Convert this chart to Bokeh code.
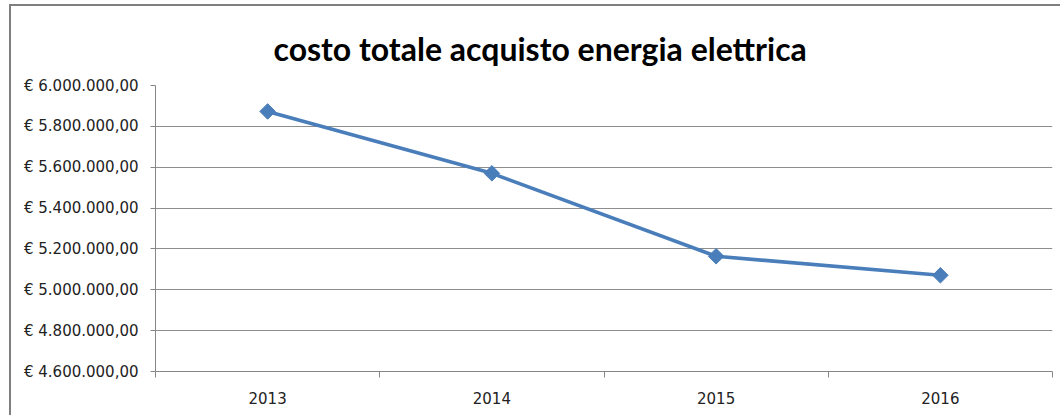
import math
from bokeh.plotting import figure
from bokeh.models import FixedTicker, Range1d, ColumnDataSource
from bokeh.embed import file_html
from bokeh.resources import INLINE

years = ["2013", "2014", "2015", "2016"]
costs = [5873000, 5570000, 5164000, 5071000]
y_ticks = [4600000, 4800000, 5000000, 5200000, 5400000, 5600000, 5800000, 6000000]
y_labels = ["€ 4.600.000,00", "€ 4.800.000,00", "€ 5.000.000,00", "€ 5.200.000,00",
            "€ 5.400.000,00", "€ 5.600.000,00", "€ 5.800.000,00", "€ 6.000.000,00"]
title_text = "costo totale acquisto energia elettrica"

xpos = [i + 0.5 for i in range(len(years))]
src = ColumnDataSource(dict(x=xpos, y=costs))

p = figure(width=1060, height=415, output_backend="svg", toolbar_location=None,
           x_range=Range1d(0, len(years)), y_range=Range1d(y_ticks[0], y_ticks[-1]),
           min_border_left=155, min_border_right=8, min_border_top=85, min_border_bottom=44,
           title=title_text)
p.styles = {
    "background": "linear-gradient(#7f7f7f,#7f7f7f) 9px 4px / 2px 100% no-repeat, "
                  "linear-gradient(#7f7f7f,#7f7f7f) 9px 4px / 100% 2px no-repeat, white"
}
p.outline_line_color = None
p.background_fill_color = "white"
p.border_fill_color = None

p.title.align = "left"
p.title.offset = 118
p.title.standoff = 36
p.title.text_font = "Lato"
p.title.text_font_style = "bold"
p.title.text_font_size = "32px"
p.title.text_color = "black"

p.line("x", "y", source=src, line_color="#4a7ebb", line_width=3.6)
p.scatter("x", "y", source=src, marker="square", angle=math.pi / 4, size=11,
          fill_color="#4a7ebb", line_color="#4a7ebb")

# x axis
p.xaxis.ticker = FixedTicker(ticks=xpos, minor_ticks=list(range(len(years) + 1)))
p.xaxis.major_label_overrides = {x: y for x, y in zip(xpos, years)}
p.xaxis.major_tick_line_color = None
p.xaxis.minor_tick_line_color = "#868686"
p.xaxis.minor_tick_out = 6
p.xaxis.minor_tick_in = 0
p.xaxis.axis_line_color = "#868686"
p.xaxis.major_label_text_font = "DejaVu Sans"
p.xaxis.major_label_text_font_size = "15px"
p.xaxis.major_label_text_color = "#222222"
p.xaxis.major_label_standoff = 14

# y axis
p.yaxis.ticker = FixedTicker(ticks=y_ticks, minor_ticks=[])
p.yaxis.major_label_overrides = {t: l for t, l in zip(y_ticks, y_labels)}
p.yaxis.major_tick_line_color = "#868686"
p.yaxis.major_tick_out = 5
p.yaxis.major_tick_in = 0
p.yaxis.axis_line_color = "#868686"
p.yaxis.major_label_text_font = "DejaVu Sans"
p.yaxis.major_label_text_font_size = "15px"
p.yaxis.major_label_text_color = "#222222"
p.yaxis.major_label_standoff = 12

p.xgrid.grid_line_color = None
p.ygrid.ticker = FixedTicker(ticks=y_ticks)
p.ygrid.grid_line_color = "#8e8e8e"
p.ygrid.grid_line_width = 1

open("out.html", "w").write(file_html(p, INLINE))
